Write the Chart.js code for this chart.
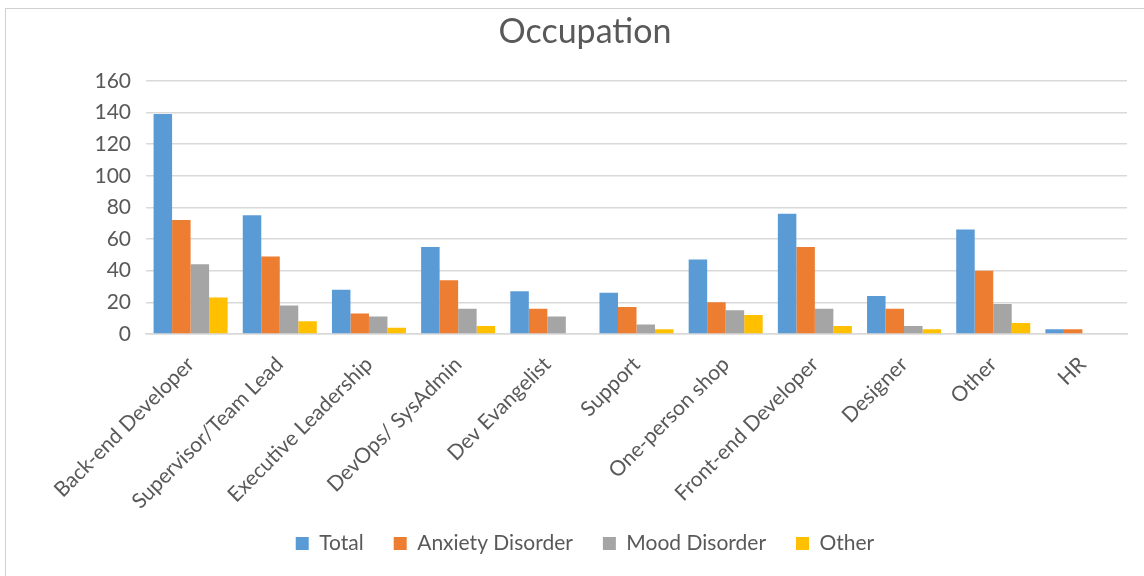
<!DOCTYPE html>
<html>
<head>
<meta charset="utf-8">
<script src="https://cdn.jsdelivr.net/npm/chart.js@4.4.1/dist/chart.umd.min.js"></script>
<style>
  html, body { margin: 0; padding: 0; background: #fff; }
  #wrap { position: relative; width: 1144px; height: 576px; }
  #frame {
    position: absolute; left: 5px; top: 8px; right: -10px; bottom: -10px;
    border-left: 1px solid #d0d0d0; border-top: 1px solid #d0d0d0;
    pointer-events: none;
  }
</style>
</head>
<body>
<div id="wrap">
  <canvas id="chart" width="1144" height="576"></canvas>
  <div id="frame"></div>
</div>
<script>
// ─── Data ─────────────────────────────────────────────────────────────────────

const categories = [
  "Back-end Developer", "Supervisor/Team Lead", "Executive Leadership",
  "DevOps/ SysAdmin", "Dev Evangelist", "Support", "One-person shop",
  "Front-end Developer", "Designer", "Other", "HR",
];

const totalValues   = [139, 75, 28, 55, 27, 26, 47, 76, 24, 66, 3];
const anxietyValues = [72, 49, 13, 34, 16, 17, 20, 55, 16, 40, 3];
const moodValues    = [44, 18, 11, 16, 11, 6, 15, 16, 5, 19, 0];
const otherValues   = [23, 8, 4, 5, 0, 3, 12, 5, 3, 7, 0];

const seriesNames  = ["Total", "Anxiety Disorder", "Mood Disorder", "Other"];
const seriesColors = ["#5b9bd5", "#ed7d31", "#a5a5a5", "#ffc000"];

const TEXT = "#595959";
const GRID = "#d9d9d9";
const FONT = "Lato, 'Open Sans', sans-serif";

// ─── Chart ────────────────────────────────────────────────────────────────────

const datasets = [totalValues, anxietyValues, moodValues, otherValues].map((vals, i) => ({
  label: seriesNames[i],
  data: vals,
  backgroundColor: seriesColors[i],
  borderWidth: 0,
  categoryPercentage: 0.83,
  barPercentage: 1.0,
}));

new Chart(document.getElementById("chart").getContext("2d"), {
  type: "bar",
  data: { labels: categories, datasets },
  options: {
    responsive: false,
    animation: false,
    layout: { padding: { left: 43, right: 17, top: 12, bottom: 12 } },
    plugins: {
      title: {
        display: true,
        text: "Occupation",
        color: TEXT,
        font: { family: FONT, size: 34, weight: "normal" },
        padding: { top: 0, bottom: 28 },
      },
      legend: {
        position: "bottom",
        labels: {
          color: TEXT,
          font: { family: FONT, size: 21 },
          boxWidth: 13,
          boxHeight: 13,
          padding: 30,
        },
      },
      tooltip: { enabled: false },
    },
    scales: {
      x: {
        grid: { display: false },
        border: { color: GRID, width: 1.5 },
        ticks: {
          color: TEXT,
          font: { family: FONT, size: 21 },
          maxRotation: 45,
          minRotation: 45,
          autoSkip: false,
          padding: 10,
        },
        // fixed label band height, and let the first label hang into the margin
        afterFit: (scale) => {
          scale.height = 169;
          scale.paddingLeft = 0;
          scale.paddingRight = 0;
          // long rotated labels run a bit past the band: don't clip them
          scale._computeLabelArea = () => undefined;
        },
      },
      y: {
        min: 0,
        max: 160,
        ticks: {
          stepSize: 20,
          color: TEXT,
          font: { family: FONT, size: 21 },
          padding: 15,
        },
        grid: { color: GRID, lineWidth: 1.5, drawTicks: false },
        border: { display: false },
        afterFit: (scale) => { scale.width = 103; },
      },
    },
  },
});
</script>
</body>
</html>
